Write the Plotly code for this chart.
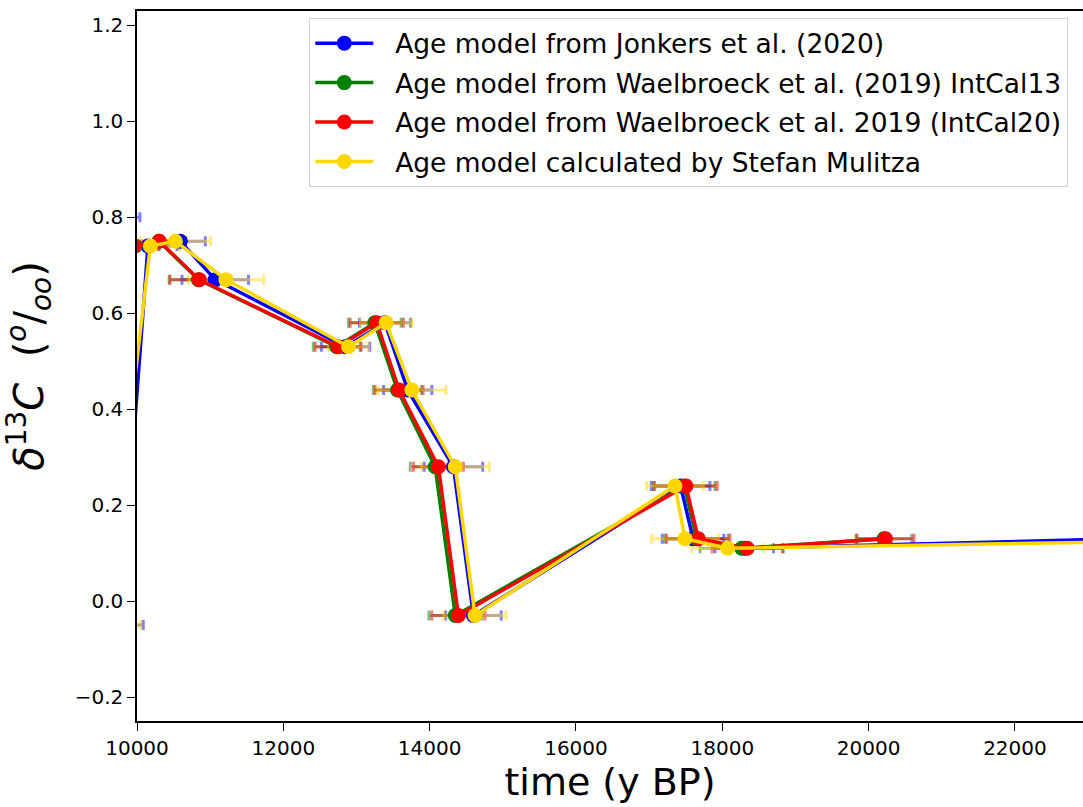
import plotly.graph_objects as go

# ---- data ----
labels = [
    "Age model from Jonkers et al. (2020)",
    "Age model from Waelbroeck et al. (2019) IntCal13",
    "Age model from Waelbroeck et al. 2019 (IntCal20)",
    "Age model calculated by Stefan Mulitza",
]

jonkers_age = [9600, 9762, 10150, 10592, 11070, 12850, 13390, 13700, 14325, 14598, 17430, 17600, 18300, 23500]
jonkers_d13c = [0.80, -0.05, 0.74, 0.75, 0.67, 0.53, 0.58, 0.44, 0.28, -0.03, 0.24, 0.13, 0.11, 0.13]
jonkers_err = [440, 323, 400, 342, 455, 330, 350, 330, 400, 380, 400, 420, 400, 400]

ic13_age = [9975, 10300, 10840, 12730, 13250, 13560, 14075, 14350, 17480, 17650, 18265, 20210]
ic13_d13c = [0.74, 0.75, 0.67, 0.53, 0.58, 0.44, 0.28, -0.03, 0.24, 0.13, 0.11, 0.13]
ic13_err = [330, 360, 400, 320, 360, 330, 340, 360, 420, 430, 568, 380]

ic20_age = [9960, 10305, 10851, 12750, 13278, 13583, 14120, 14393, 17503, 17672, 18341, 20231]
ic20_d13c = [0.74, 0.75, 0.67, 0.53, 0.58, 0.44, 0.28, -0.03, 0.24, 0.13, 0.11, 0.13]
ic20_err = [330, 360, 400, 314, 364, 328, 341, 363, 428, 433, 480, 390]

mulitza_age = [9575, 10182, 10525, 11216, 12891, 13405, 13757, 14350, 14620, 17353, 17490, 18073, 24000]
mulitza_d13c = [-0.05, 0.74, 0.75, 0.67, 0.53, 0.58, 0.44, 0.28, -0.03, 0.24, 0.13, 0.11, 0.125]
mulitza_err = [474, 400, 480, 515, 273, 350, 464, 466, 425, 387, 455, 492, 400]

x_ticks = [10000, 12000, 14000, 16000, 18000, 20000, 22000]
y_ticks = [-0.2, 0.0, 0.2, 0.4, 0.6, 0.8, 1.0, 1.2]

series = [
    (jonkers_age, jonkers_d13c, jonkers_err, "#0000ff", "rgba(0,0,255,0.5)"),
    (ic13_age, ic13_d13c, ic13_err, "#008000", "rgba(0,128,0,0.5)"),
    (ic20_age, ic20_d13c, ic20_err, "#ff0000", "rgba(255,0,0,0.5)"),
    (mulitza_age, mulitza_d13c, mulitza_err, "#ffd700", "rgba(255,215,0,0.5)"),
]

FONT = "DejaVu Sans"
fig = go.Figure()

# error bars first (behind all lines)
for (xa, ya, ea, col, ecol) in series:
    fig.add_trace(go.Scatter(
        x=xa, y=ya, mode="markers",
        marker=dict(size=1, opacity=0),
        error_x=dict(type="data", array=ea, symmetric=True, color=ecol, thickness=3, width=5),
        showlegend=False, hoverinfo="skip",
    ))

for lab, (xa, ya, ea, col, ecol) in zip(labels, series):
    fig.add_trace(go.Scatter(
        x=xa, y=ya, mode="lines+markers", name="\u00a0\u00a0" + lab, legendgroup=lab,
        line=dict(color=col, width=3.5),
        marker=dict(color=col, size=15),
    ))

axis_common = dict(
    showline=True, linecolor="black", linewidth=1.5,
    ticks="outside", ticklen=8, tickwidth=1.3, tickcolor="black",
    showgrid=False, zeroline=False,
    tickfont=dict(family=FONT, size=20, color="black"),
)

fig.update_layout(
    width=1083, height=807,
    margin=dict(l=137, r=0, t=11, b=86),
    paper_bgcolor="white", plot_bgcolor="white",
    font=dict(family=FONT, color="black"),
    xaxis=dict(range=[10000, 22930], tickvals=x_ticks, tickformat="d", mirror=True,
               title=dict(text="time (y BP)", font=dict(family=FONT, size=38, color="black"), standoff=8),
               **axis_common),
    yaxis=dict(range=[-0.25, 1.23], tickvals=y_ticks, tickformat=".1f",
               title=dict(text="<i>δ</i><sup>13</sup><i>C</i>  (<sup><i>o</i></sup>/<sub><i>oo</i></sub>)",
                          font=dict(family=FONT, size=40, color="black"), standoff=26),
               **axis_common),
    legend=dict(x=0.1818, y=0.99, xanchor="left", yanchor="top",
                bgcolor="rgba(255,255,255,0.8)", bordercolor="#d0d0d0", borderwidth=1.3,
                font=dict(family=FONT, size=26.5, color="black"),
                itemwidth=58, tracegroupgap=2),
)

fig.write_html("out.html", config={"displayModeBar": False},
               post_script="document.body.style.margin='0';document.body.style.overflow='hidden';")
